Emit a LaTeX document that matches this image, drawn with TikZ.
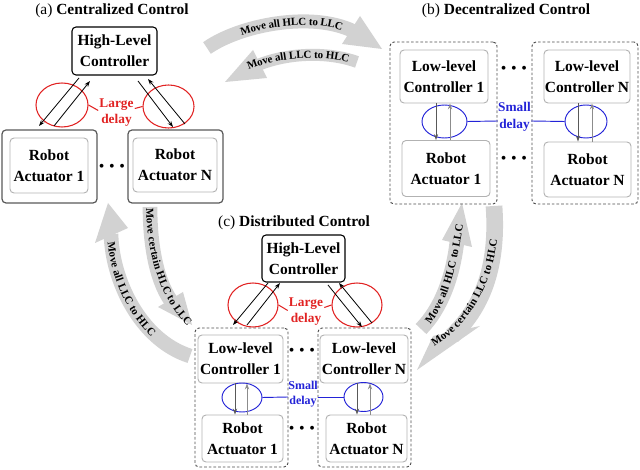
\documentclass[tikz,border=0pt]{standalone}
\usepackage{fontspec}
\setmainfont{Liberation Serif}
\usetikzlibrary{arrows.meta,decorations.text,shapes.geometric,calc}
\definecolor{agray}{RGB}{210,210,210}
\definecolor{dred}{RGB}{225,35,35}
\definecolor{dblue}{RGB}{35,35,215}
\newcommand\boxfont{\fontsize{11.6}{16}\selectfont\bfseries}
\newcommand\titfont{\fontsize{11.6}{14}\selectfont}
\newcommand\arrfont{\fontsize{8.2}{9}\selectfont\bfseries}
\newcommand\redfont{\fontsize{10}{12.5}\selectfont\bfseries}
\newcommand\bluefontb{\fontsize{10}{12.5}\selectfont\bfseries}
\newcommand\bluefontc{\fontsize{9}{11.5}\selectfont\bfseries}
\newcommand\mydots{\fontsize{12}{12}\selectfont\textbullet\hspace{3.5pt}\textbullet\hspace{3.5pt}\textbullet}
\begin{document}
\begin{tikzpicture}[x=0.75pt,y=-0.75pt,
  titnode/.style={font=\titfont,inner sep=0pt},
  hlcbox/.style={draw=black,line width=0.8pt,rounded corners=3pt,fill=white,align=center,font=\boxfont,inner sep=0pt},
  outerbox/.style={draw=black!65,line width=0.9pt,rounded corners=3pt,inner sep=0pt},
  innerbox/.style={draw=black!30,line width=0.7pt,rounded corners=3pt,align=center,font=\boxfont,inner sep=0pt},
  dashbox/.style={draw=black!70,line width=0.7pt,dash pattern=on 2pt off 1.5pt,rounded corners=3pt,inner sep=0pt},
  redell/.style={ellipse,draw=dred,line width=0.8pt,inner sep=0pt},
  blueell/.style={ellipse,draw=dblue,line width=0.7pt,inner sep=0pt},
  blkarr/.style={draw=black,line width=0.6pt,-{Stealth[length=4.5pt,width=3.2pt]}},
  darr/.style={draw=black!65,line width=0.6pt,-{Stealth[length=4.5pt,width=3.2pt]}},
  larr/.style={draw=black!45,line width=0.6pt,-{Stealth[length=4.5pt,width=3.2pt]}},
  redline/.style={draw=dred,line width=0.8pt},
  blueline/.style={draw=dblue,line width=0.7pt},
  dotnode/.style={inner sep=0pt},
  arrtext/.style={decorate,decoration={text along path,text={|\arrfont|#1},raise=-2.8pt}}
]
\useasboundingbox (0,0) rectangle (640,470);

% ---------------- gray curved arrows ----------------
% A1 top: Move all HLC to LLC
\fill[agray] (360,16) -- (382,49) -- (342,44) -- cycle;
\draw[agray,line width=10.5pt] (207,48) .. controls (240,25) and (311,11) .. (353,31);
\path[arrtext={Move all HLC to LLC},decoration={text align={left indent=28pt}}] (207,48) .. controls (240,25) and (311,11) .. (353,31);
% A2 : Move all LLC to HLC
\fill[agray] (253,50) -- (225,82) -- (267,78) -- cycle;
\draw[agray,line width=9pt] (357,62) .. controls (330,52) and (290,52) .. (258,65);
\path[arrtext={Move all LLC to HLC},decoration={text align=center}] (240,70) .. controls (275,52) and (330,50) .. (357,62);
% A3 left outer: Move all LLC to HLC (up)
\fill[agray] (95,243) -- (108,203) -- (128,228) -- cycle;
\draw[agray,line width=11pt] (190,356) .. controls (140,340) and (112,280) .. (111,234);
\path[arrtext={Move all LLC to HLC},decoration={text align={left indent=6pt}}] (111,234) .. controls (112,280) and (140,340) .. (190,356);
% A4 left inner: Move certain HLC to LLC (down)
\fill[agray] (158,307) -- (192,325) -- (183,292) -- cycle;
\draw[agray,line width=11pt] (150,207) .. controls (150,240) and (155,278) .. (171,301);
\path[arrtext={Move certain HLC to LLC},decoration={text align={left indent=1pt}}] (150,207) .. controls (150,245) and (160,295) .. (192,325);
% A5 right inner: Move all HLC to LLC (up)
\fill[agray] (442,240) -- (462,203) -- (472,247) -- cycle;
\draw[agray,line width=11pt] (421,329) .. controls (440,310) and (453,278) .. (457,241);
\path[arrtext={Move all HLC to LLC},decoration={text align={left indent=7pt}}] (421,329) .. controls (440,310) and (453,278) .. (462,205);
% A6 right outer: Move certain LLC to HLC (down)
\fill[agray] (480,326) -- (417,370) -- (433,336) -- cycle;
\draw[agray,line width=12.5pt] (494,206) .. controls (498,262) and (485,305) .. (452,336);
\path[arrtext={Move certain LLC to HLC},decoration={text align={left indent=2pt}}] (430,345) .. controls (475,318) and (498,265) .. (494,206);

% ---------------- (a) Centralized ----------------
\node[titnode] (ta) at (112,11) {(a) \textbf{Centralized Control}};
\node[hlcbox,minimum width=63.75pt,minimum height=36pt] (hlca) at (114.5,51) {High-Level\\Controller};
\node[outerbox,minimum width=71.25pt,minimum height=54.75pt] (oa1) at (49.5,166.5) {};
\node[innerbox,minimum width=58.5pt,minimum height=41.25pt] (ra1) at (49,165.5) {Robot\\Actuator 1};
\node[outerbox,minimum width=71.25pt,minimum height=54.75pt] (oaN) at (175.5,166.5) {};
\node[innerbox,minimum width=63pt,minimum height=40.5pt] (raN) at (175,165) {Robot\\Actuator N};
\node[dotnode] (dotsa) at (112,168) {\mydots};
\node[redell,minimum width=39pt,minimum height=33pt] (rea1) at (62,105) {};
\node[redell,minimum width=38.25pt,minimum height=32.25pt] (reaN) at (168.5,106.5) {};
\node[text=dred,font=\redfont,align=center,inner sep=0pt] (lda) at (116.5,112.5) {Large\\delay};
\draw[redline] (rea1.east) -- ($(lda.west)+(-1,-2)$);
\draw[redline] (reaN.west) -- ($(lda.east)+(1,-4)$);
\coordinate (a1s) at (79,78);  \coordinate (a1e) at (39,126);
\coordinate (a2s) at (54,126); \coordinate (a2e) at (90,81);
\coordinate (a3s) at (138,81); \coordinate (a3e) at (173,127);
\coordinate (a4s) at (185,124); \coordinate (a4e) at (148,79);
\draw[blkarr] (a1s) -- (a1e);
\draw[blkarr] (a2s) -- (a2e);
\draw[blkarr] (a3s) -- (a3e);
\draw[blkarr] (a4s) -- (a4e);

% ---------------- (b) Decentralized ----------------
\node[titnode] (tb) at (506,11) {(b) \textbf{Decentralized Control}};
\node[dashbox,minimum width=80.25pt,minimum height=121.5pt] (db1) at (443.5,123) {};
\node[dashbox,minimum width=79.5pt,minimum height=121.5pt] (dbN) at (585,123) {};
\node[innerbox,minimum width=66pt,minimum height=39.75pt] (llcb1) at (444,76.5) {Low-level\\Controller 1};
\node[innerbox,minimum width=66pt,minimum height=42pt] (rab1) at (446,168.5) {Robot\\Actuator 1};
\node[innerbox,minimum width=64.5pt,minimum height=39.75pt] (llcbN) at (587,76.5) {Low-level\\Controller N};
\node[innerbox,minimum width=65.25pt,minimum height=41.25pt] (rabN) at (587.5,169.5) {Robot\\Actuator N};
\node[blueell,minimum width=33.75pt,minimum height=24.75pt] (beb1) at (444.5,121.5) {};
\node[blueell,minimum width=31.5pt,minimum height=24.75pt] (bebN) at (586,121.5) {};
\node[text=dblue,font=\bluefontb,align=center,inner sep=0pt] (sdb) at (514.5,116.5) {Small\\delay};
\draw[blueline] (beb1.east) -- ($(sdb.west)+(0,4.5)$);
\draw[blueline] ($(sdb.east)+(0,4.5)$) -- (bebN.west);
\node[dotnode] (dotsb1) at (514,70) {\mydots};
\node[dotnode] (dotsb2) at (514,160) {\mydots};
\draw[darr] ($(llcb1.south)+(-8,0)$) -- ($(rab1.north)+(-10,0)$);
\draw[larr] ($(rab1.north)+(4,0)$) -- ($(llcb1.south)+(6,0)$);
\draw[darr] ($(llcbN.south)+(-9,0)$) -- ($(rabN.north)+(-9.5,0)$);
\draw[larr] ($(rabN.north)+(4.5,0)$) -- ($(llcbN.south)+(5,0)$);

% ---------------- (c) Distributed ----------------
\node[titnode] (tc) at (294,223) {(c) \textbf{Distributed Control}};
\node[hlcbox,minimum width=62.25pt,minimum height=35.25pt] (hlcc) at (303.5,258.5) {High-Level\\Controller};
\node[dashbox,minimum width=69.75pt,minimum height=104.25pt] (dc1) at (241.5,397.5) {};
\node[dashbox,minimum width=69.75pt,minimum height=104.25pt] (dcN) at (364.5,397.5) {};
\node[innerbox,minimum width=63.75pt,minimum height=36pt] (llcc1) at (240.5,359) {Low-level\\Controller 1};
\node[innerbox,minimum width=60.75pt,minimum height=35.25pt] (racc1) at (242.5,438.5) {Robot\\Actuator 1};
\node[innerbox,minimum width=66pt,minimum height=36pt] (llccN) at (364,359) {Low-level\\Controller N};
\node[innerbox,minimum width=60.75pt,minimum height=35.25pt] (raccN) at (366.5,438.5) {Robot\\Actuator N};
\node[redell,minimum width=37.5pt,minimum height=33pt] (rec1) at (253,305) {};
\node[redell,minimum width=37.5pt,minimum height=33pt] (recN) at (357,305) {};
\node[text=dred,font=\redfont,align=center,inner sep=0pt] (ldc) at (306,311.5) {Large\\delay};
\draw[redline] (rec1.east) -- ($(ldc.west)+(-1,-1)$);
\draw[redline] (recN.west) -- ($(ldc.east)+(1,-4)$);
\coordinate (c1s) at (268,283); \coordinate (c1e) at (233,325);
\coordinate (c2s) at (247,325); \coordinate (c2e) at (280,283);
\coordinate (c3s) at (328,285); \coordinate (c3e) at (362,327);
\coordinate (c4s) at (372,323); \coordinate (c4e) at (339,283);
\draw[blkarr] (c1s) -- (c1e);
\draw[blkarr] (c2s) -- (c2e);
\draw[blkarr] (c3s) -- (c3e);
\draw[blkarr] (c4s) -- (c4e);
\node[blueell,minimum width=30pt,minimum height=21.75pt] (bec1) at (242,397.5) {};
\node[blueell,minimum width=29.25pt,minimum height=21.75pt] (becN) at (363.5,397) {};
\node[text=dblue,font=\bluefontc,align=center,inner sep=0pt] (sdc) at (303,394) {Small\\delay};
\draw[blueline] (bec1.east) -- ($(sdc.west)+(0,3)$);
\draw[blueline] ($(sdc.east)+(0,3)$) -- (becN.west);
\node[dotnode] (dotsc1) at (302,352) {\mydots};
\node[dotnode] (dotsc2) at (302,430) {\mydots};
\draw[darr] ($(llcc1.south)+(-5.5,0)$) -- ($(racc1.north)+(-7.5,0)$);
\draw[larr] ($(racc1.north)+(4.5,0)$) -- ($(llcc1.south)+(6.5,0)$);
\draw[darr] ($(llccN.south)+(-7,0)$) -- ($(raccN.north)+(-9.5,0)$);
\draw[larr] ($(raccN.north)+(3.5,0)$) -- ($(llccN.south)+(6,0)$);
\end{tikzpicture}
\end{document}
